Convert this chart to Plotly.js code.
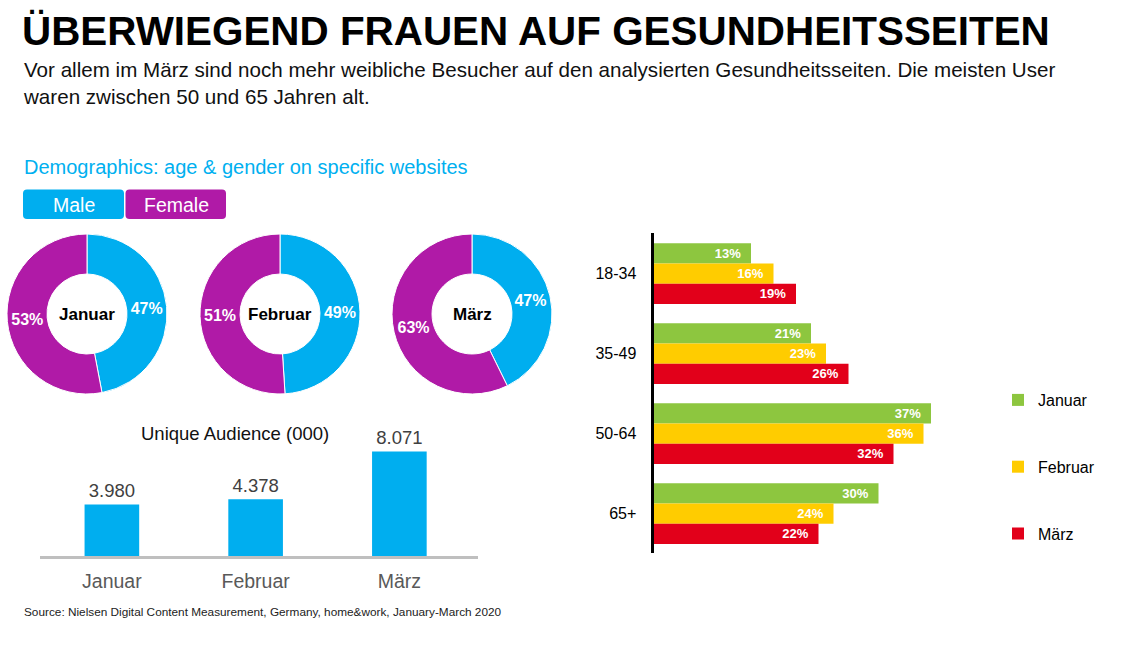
<!DOCTYPE html>
<html>
<head>
<meta charset="utf-8">
<script src="https://cdn.plot.ly/plotly-3.0.1.min.js"></script>
<style>html,body{margin:0;padding:0;background:#fff;}#chart{width:1129px;height:646px;}</style>
</head>
<body>
<div id="chart"></div>
<script>
// ---------- data ----------
const months = ['Januar', 'Februar', 'März'];
const maleShare = [47, 49, 47];
const femaleShare = [53, 51, 63];
const uniqueAudience = [3980, 4378, 8071];
const ageGroups = ['18-34', '35-49', '50-64', '65+'];
const ageJanuar = [13, 21, 37, 30];
const ageFebruar = [16, 23, 36, 24];
const ageMaerz = [19, 26, 32, 22];

// ---------- helpers ----------
const W = 1129, H = 646;
const px = x => x / W;
const py = y => 1 - y / H;
const FONT = 'Liberation Sans, Arial, sans-serif';
const BLUE = '#00AEEF', PURPLE = '#B01AA7';
const GREEN = '#8DC63F', YELLOW = '#FFCC00', RED = '#E2001A';

function roundRect(x0, y0, x1, y1, r) {
  const X = px, Y = py;
  return 'M' + X(x0 + r) + ',' + Y(y0) +
    ' L' + X(x1 - r) + ',' + Y(y0) +
    ' Q' + X(x1) + ',' + Y(y0) + ' ' + X(x1) + ',' + Y(y0 + r) +
    ' L' + X(x1) + ',' + Y(y1 - r) +
    ' Q' + X(x1) + ',' + Y(y1) + ' ' + X(x1 - r) + ',' + Y(y1) +
    ' L' + X(x0 + r) + ',' + Y(y1) +
    ' Q' + X(x0) + ',' + Y(y1) + ' ' + X(x0) + ',' + Y(y1 - r) +
    ' L' + X(x0) + ',' + Y(y0 + r) +
    ' Q' + X(x0) + ',' + Y(y0) + ' ' + X(x0 + r) + ',' + Y(y0) + ' Z';
}

const traces = [];
const donutCenters = [87, 280, 472];
const donutR = 80, donutCY = 314;

months.forEach((m, i) => {
  const cx = donutCenters[i];
  traces.push({
    type: 'pie',
    labels: ['Male', 'Female'],
    values: [maleShare[i], femaleShare[i]],
    text: [maleShare[i] + '%', femaleShare[i] + '%'],
    textinfo: 'text',
    textposition: 'inside',
    insidetextorientation: 'horizontal',
    textfont: {family: FONT, size: 16, color: '#ffffff', weight: 'bold'},
    marker: {colors: [BLUE, PURPLE], line: {color: '#ffffff', width: 1}},
    hole: 0.5,
    sort: false,
    direction: 'clockwise',
    rotation: 0,
    showlegend: false,
    hoverinfo: 'skip',
    domain: {x: [px(cx - donutR), px(cx + donutR)], y: [py(donutCY + donutR), py(donutCY - donutR)]}
  });
});

traces.push({
  type: 'bar',
  x: months,
  y: uniqueAudience,
  xaxis: 'x', yaxis: 'y',
  width: 0.38,
  marker: {color: BLUE, line: {width: 0}},
  texttemplate: '%{y:,}',
  textposition: 'outside',
  cliponaxis: false,
  textfont: {family: FONT, size: 18.5, color: '#404040'},
  showlegend: false,
  hoverinfo: 'skip'
});

const ageSeries = [[ageJanuar, 'Januar', GREEN], [ageFebruar, 'Februar', YELLOW], [ageMaerz, 'März', RED]];
ageSeries.forEach((s, i) => {
  traces.push({
    type: 'bar',
    orientation: 'h',
    y: ageGroups,
    x: s[0],
    name: s[1],
    legendgroup: 'g' + i,
    xaxis: 'x2', yaxis: 'y2',
    marker: {color: s[2], line: {width: 0}},
    texttemplate: '%{x}%\u00a0\u00a0',
    textposition: 'inside',
    insidetextanchor: 'end',
    textangle: 0,
    textfont: {family: FONT, size: 13, color: '#ffffff', weight: 'bold'},
    hoverinfo: 'skip'
  });
});

const layout = {
  width: W, height: H,
  margin: {l: 0, r: 0, t: 0, b: 0},
  paper_bgcolor: '#ffffff', plot_bgcolor: 'rgba(0,0,0,0)',
  separators: ',.',
  barmode: 'group',
  bargap: 0.24,
  bargroupgap: 0,
  uniformtext: {mode: 'show', minsize: 13},
  font: {family: FONT, color: '#000'},
  title: {
    text: '<b>ÜBERWIEGEND FRAUEN AUF GESUNDHEITSSEITEN</b>',
    x: px(22), xanchor: 'left', xref: 'paper',
    y: py(31), yanchor: 'middle', yref: 'paper',
    font: {family: FONT, size: 40.4, color: '#000'}
  },
  xaxis: {
    domain: [px(40), px(478)],
    range: [-0.5, 2.547],
    showgrid: false, zeroline: false,
    showline: true, linecolor: '#BFBFBF', linewidth: 3,
    ticks: '', ticklabelstandoff: 6,
    tickfont: {family: FONT, size: 19.5, color: '#595959'},
    fixedrange: true,
    anchor: 'y'
  },
  yaxis: {
    domain: [py(556), py(430)],
    range: [0, 9730],
    visible: false,
    fixedrange: true,
    anchor: 'x'
  },
  xaxis2: {
    domain: [px(653.5), px(953.5)],
    range: [0, 40],
    visible: false,
    fixedrange: true,
    anchor: 'y2'
  },
  yaxis2: {
    domain: [py(553), py(233)],
    range: [3.491, -0.509],
    type: 'category',
    showgrid: false, zeroline: false,
    showline: true, linecolor: '#000', linewidth: 3,
    ticks: '', ticklabelstandoff: 11,
    tickfont: {family: FONT, size: 16, color: '#000'},
    fixedrange: true,
    anchor: 'x2'
  },
  legend: {
    x: px(998), xanchor: 'left',
    y: py(383), yanchor: 'top',
    font: {family: FONT, size: 16, color: '#000'},
    traceorder: 'grouped',
    tracegroupgap: 43,
    bgcolor: 'rgba(0,0,0,0)',
    itemclick: false, itemdoubleclick: false
  },
  shapes: [
    {type: 'path', xref: 'paper', yref: 'paper', path: roundRect(23, 189.5, 124, 219, 4), fillcolor: BLUE, line: {width: 0}},
    {type: 'path', xref: 'paper', yref: 'paper', path: roundRect(125.5, 189.5, 226, 219, 4), fillcolor: PURPLE, line: {width: 0}}
  ],
  annotations: [
    {text: 'Vor allem im März sind noch mehr weibliche Besucher auf den analysierten Gesundheitsseiten. Die meisten User<br>waren zwischen 50 und 65 Jahren alt.',
     x: px(21), y: py(56), xanchor: 'left', yanchor: 'top', align: 'left', font: {family: FONT, size: 20.6, color: '#111'}},
    {text: 'Demographics: age &amp; gender on specific websites', x: px(22), y: py(167), xanchor: 'left', yanchor: 'middle',
     font: {family: FONT, size: 20, color: '#00B0F0'}},
    {text: 'Male', x: px(73.5), y: py(205), xanchor: 'center', yanchor: 'middle', font: {family: FONT, size: 19.5, color: '#fff'}},
    {text: 'Female', x: px(176), y: py(205), xanchor: 'center', yanchor: 'middle', font: {family: FONT, size: 19.5, color: '#fff'}},
    {text: 'Unique Audience (000)', x: px(235), y: py(433), xanchor: 'center', yanchor: 'middle', font: {family: FONT, size: 18.5, color: '#111'}},
    {text: 'Source: Nielsen Digital Content Measurement, Germany, home&amp;work, January-March 2020', x: px(22), y: py(612), xanchor: 'left', yanchor: 'middle',
     font: {family: FONT, size: 11.8, color: '#222'}}
  ].map(a => Object.assign({xref: 'paper', yref: 'paper', showarrow: false}, a))
};

months.forEach((m, i) => {
  layout.annotations.push({
    xref: 'paper', yref: 'paper', showarrow: false,
    text: '<b>' + m + '</b>', x: px(donutCenters[i]), y: py(donutCY), xanchor: 'center', yanchor: 'middle',
    font: {family: FONT, size: 17, color: '#000'}
  });
});

Plotly.newPlot('chart', traces, layout, {staticPlot: true, displayModeBar: false});
</script>
</body>
</html>
